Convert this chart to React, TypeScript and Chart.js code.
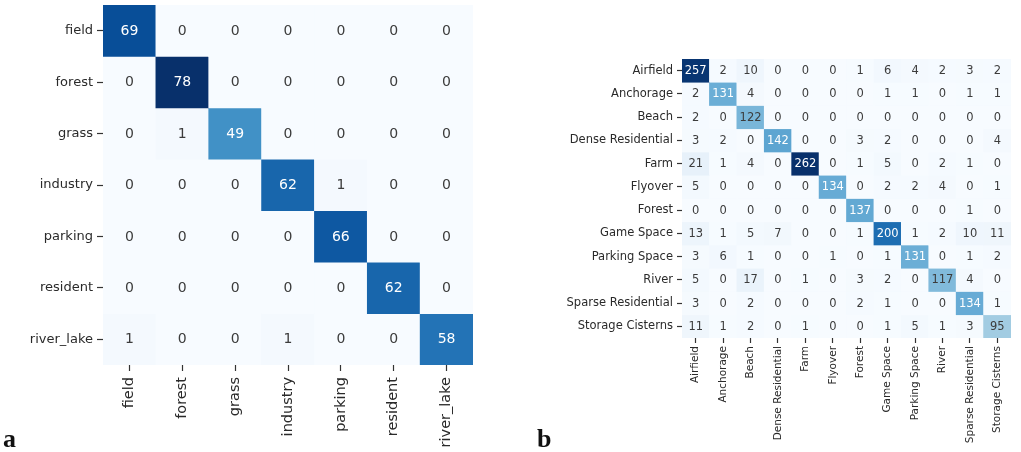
import React, { useEffect, useRef } from "react";
import { Chart, registerables } from "chart.js";

Chart.register(...registerables);

// ---- Data (a) ----
const labelsA = ["field", "forest", "grass", "industry", "parking", "resident", "river_lake"];
const matrixA = [
  [69, 0, 0, 0, 0, 0, 0],
  [0, 78, 0, 0, 0, 0, 0],
  [0, 1, 49, 0, 0, 0, 0],
  [0, 0, 0, 62, 1, 0, 0],
  [0, 0, 0, 0, 66, 0, 0],
  [0, 0, 0, 0, 0, 62, 0],
  [1, 0, 0, 1, 0, 0, 58],
];

// ---- Data (b) ----
const labelsB = [
  "Airfield",
  "Anchorage",
  "Beach",
  "Dense Residential",
  "Farm",
  "Flyover",
  "Forest",
  "Game Space",
  "Parking Space",
  "River",
  "Sparse Residential",
  "Storage Cisterns",
];
const matrixB = [
  [257, 2, 10, 0, 0, 0, 1, 6, 4, 2, 3, 2],
  [2, 131, 4, 0, 0, 0, 0, 1, 1, 0, 1, 1],
  [2, 0, 122, 0, 0, 0, 0, 0, 0, 0, 0, 0],
  [3, 2, 0, 142, 0, 0, 3, 2, 0, 0, 0, 4],
  [21, 1, 4, 0, 262, 0, 1, 5, 0, 2, 1, 0],
  [5, 0, 0, 0, 0, 134, 0, 2, 2, 4, 0, 1],
  [0, 0, 0, 0, 0, 0, 137, 0, 0, 0, 1, 0],
  [13, 1, 5, 7, 0, 0, 1, 200, 1, 2, 10, 11],
  [3, 6, 1, 0, 0, 1, 0, 1, 131, 0, 1, 2],
  [5, 0, 17, 0, 1, 0, 3, 2, 0, 117, 4, 0],
  [3, 0, 2, 0, 0, 0, 2, 1, 0, 0, 134, 1],
  [11, 1, 2, 0, 1, 0, 0, 1, 5, 1, 3, 95],
];

// ---- Blues colormap ----
const BLUES = ["#f7fbff", "#deebf7", "#c6dbef", "#9ecae1", "#6baed6", "#4292c6", "#2171b5", "#08519c", "#08306b"];
function hexToRgb(h: string) {
  return [parseInt(h.slice(1, 3), 16), parseInt(h.slice(3, 5), 16), parseInt(h.slice(5, 7), 16)];
}
const BLUES_RGB = BLUES.map(hexToRgb);
function bluesRgb(t: number) {
  const tt = Math.max(0, Math.min(1, t)) * (BLUES_RGB.length - 1);
  const i = Math.min(BLUES_RGB.length - 2, Math.floor(tt));
  const f = tt - i;
  const a = BLUES_RGB[i];
  const b = BLUES_RGB[i + 1];
  return [0, 1, 2].map((k) => a[k] + (b[k] - a[k]) * f);
}
function blues(t: number) {
  const c = bluesRgb(t);
  return `rgb(${Math.round(c[0])},${Math.round(c[1])},${Math.round(c[2])})`;
}
function textColorFor(t: number) {
  const c = bluesRgb(t).map((v) => {
    const s = v / 255;
    return s <= 0.03928 ? s / 12.92 : Math.pow((s + 0.055) / 1.055, 2.4);
  });
  const lum = 0.2126 * c[0] + 0.7152 * c[1] + 0.0722 * c[2];
  return lum > 0.408 ? "#3c3c3c" : "#ffffff";
}

type HeatProps = {
  labels: string[];
  matrix: number[][];
  width: number;
  height: number;
  padTop: number;
  padRight: number;
  yAxisWidth: number;
  xAxisHeight: number;
  yFont: number;
  xFont: number;
  valueFont: number;
  left: number;
  tickLen: number;
  xPad: number;
};

function Heatmap(p: HeatProps) {
  const ref = useRef<HTMLCanvasElement | null>(null);
  useEffect(() => {
    if (!ref.current) return;
    const n = p.labels.length;
    const vmax = Math.max(...p.matrix.flat());
    const datasets = p.matrix.map((row, i) => ({
      label: p.labels[i],
      data: row.map(() => [i, i + 1]),
      values: row,
      backgroundColor: row.map((v) => blues(v / vmax)),
      borderWidth: 0,
      grouped: false,
      categoryPercentage: 1,
      barPercentage: 1,
    }));
    const annot = {
      id: "annot",
      afterDatasetsDraw(chart: any) {
        const ctx = chart.ctx;
        ctx.save();
        ctx.font = `${p.valueFont}px 'DejaVu Sans'`;
        ctx.textAlign = "center";
        ctx.textBaseline = "middle";
        chart.data.datasets.forEach((ds: any, i: number) => {
          const meta = chart.getDatasetMeta(i);
          meta.data.forEach((el: any, j: number) => {
            const v = ds.values[j];
            const pt = el.getCenterPoint();
            ctx.fillStyle = textColorFor(v / vmax);
            ctx.fillText(String(v), pt.x, pt.y + 0.5);
          });
        });
        ctx.restore();
      },
    };
    const tickGrid = {
      display: true,
      drawOnChartArea: false,
      drawTicks: true,
      tickLength: p.tickLen,
      tickWidth: 1.2,
      color: "#333",
      tickColor: "#333",
      offset: false,
    };
    const chart = new Chart(ref.current, {
      type: "bar",
      data: { labels: p.labels, datasets: datasets as any },
      options: {
        animation: false,
        responsive: false,
        devicePixelRatio: 1,
        layout: { padding: { top: p.padTop, right: p.padRight, left: 0, bottom: 0 } },
        plugins: { legend: { display: false }, tooltip: { enabled: false } },
        scales: {
          x: {
            type: "category",
            offset: true,
            grid: tickGrid as any,
            border: { display: false },
            ticks: {
              autoSkip: false,
              minRotation: 90,
              maxRotation: 90,
              padding: p.xPad,
              color: "#2a2a2a",
              font: { family: "'DejaVu Sans'", size: p.xFont },
            },
            afterFit: (s: any) => {
              s.height = p.xAxisHeight;
              s.paddingLeft = 0;
              s.paddingRight = 0;
            },
          },
          y: {
            type: "linear",
            min: 0,
            max: n,
            reverse: true,
            grid: tickGrid as any,
            border: { display: false },
            afterBuildTicks: (s: any) => {
              s.ticks = p.labels.map((_, i) => ({ value: i + 0.5 }));
            },
            ticks: {
              autoSkip: false,
              padding: 4,
              color: "#2a2a2a",
              font: { family: "'DejaVu Sans'", size: p.yFont },
              callback: (v: any) => p.labels[Math.floor(Number(v))],
            },
            afterFit: (s: any) => {
              s.width = p.yAxisWidth;
              s.paddingTop = 0;
              s.paddingBottom = 0;
            },
          },
        },
      },
      plugins: [annot],
    });
    return () => chart.destroy();
  }, []);
  return (
    <canvas
      ref={ref}
      width={p.width}
      height={p.height}
      style={{ position: "absolute", left: p.left, top: 0, width: p.width, height: p.height }}
    />
  );
}

const letterStyle: React.CSSProperties = {
  position: "absolute",
  fontFamily: "'Liberation Serif', serif",
  fontWeight: "bold",
  fontSize: 26,
  lineHeight: "26px",
  color: "#111",
};

export default function App() {
  return (
    <div style={{ position: "fixed", left: 0, top: 0, width: 1021, height: 452, background: "#fff" }}>
      <Heatmap
        labels={labelsA}
        matrix={matrixA}
        left={0}
        width={490}
        height={452}
        padTop={5}
        padRight={17}
        yAxisWidth={103}
        xAxisHeight={87}
        yFont={13}
        xFont={14.5}
        valueFont={14}
        tickLen={6}
        xPad={6}
      />
      <Heatmap
        labels={labelsB}
        matrix={matrixB}
        left={540}
        width={481}
        height={452}
        padTop={59}
        padRight={10}
        yAxisWidth={142}
        xAxisHeight={114}
        yFont={11.5}
        xFont={10.5}
        valueFont={11.5}
        tickLen={5}
        xPad={3}
      />
      <div style={{ ...letterStyle, left: 3, top: 426 }}>a</div>
      <div style={{ ...letterStyle, left: 537, top: 426 }}>b</div>
    </div>
  );
}
